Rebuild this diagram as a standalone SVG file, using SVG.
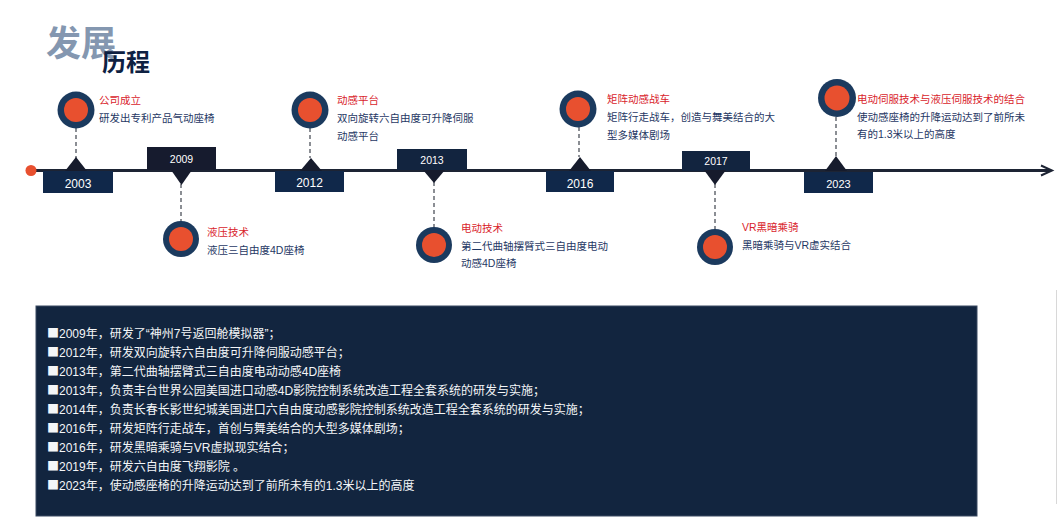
<svg xmlns="http://www.w3.org/2000/svg" width="1057" height="525" viewBox="0 0 1057 525">
<style>
text{font-family:"Liberation Sans","Noto Sans CJK SC",sans-serif}
.sq{font-family:"Noto Sans CJK SC",sans-serif}
.ttl{font-weight:bold}
.yr{fill:#ffffff;text-anchor:middle}
.ybot{fill:#10284a}
.ytop{fill:#12243f}
.tri{fill:#161b2c}
.ring{fill:#1b3a5e}
.dot{fill:#e8502f}
.h{fill:#d9242c;font-size:10.5px}
.b{fill:#1f3864;font-size:10.5px}
.dash{stroke:#666a72;stroke-width:1.5;stroke-dasharray:4 3;fill:none}
.p{fill:#f4f6f8;font-size:12px}
</style>
<rect width="1057" height="525" fill="#ffffff"/>
<line x1="1056.5" y1="290" x2="1056.5" y2="504" stroke="#d8d8d8" stroke-width="1"/>

<g id="title">
<text class="ttl" x="46" y="56" font-size="35" fill="#8497b0">发展</text>
<text class="ttl" x="102" y="71" font-size="24" fill="#0e2142">历程</text>
</g>

<g id="connectors">
<line x1="31" y1="170.5" x2="1051" y2="170.5" stroke="#1d2434" stroke-width="3"/>
<polyline points="1041,165.5 1052,170.5 1041,175.5" fill="none" stroke="#1d2434" stroke-width="2"/>
<line class="dash" x1="76" y1="128" x2="76" y2="158"/>
<line class="dash" x1="181" y1="184" x2="181" y2="222"/>
<line class="dash" x1="310" y1="128" x2="310" y2="158"/>
<line class="dash" x1="434" y1="182" x2="434" y2="228"/>
<line class="dash" x1="579" y1="127" x2="579" y2="157"/>
<line class="dash" x1="715" y1="184" x2="715" y2="230"/>
<line class="dash" x1="836" y1="117" x2="836" y2="156"/>
<circle cx="31" cy="170.5" r="5.5" class="dot"/>
</g>

<g id="n2003">
<rect class="ybot" x="43" y="171" width="70" height="22"/>
<polygon class="tri" points="65,171 87,171 76,157"/>
<text class="yr" x="78" y="188" font-size="12">2003</text>
<circle class="ring" cx="76" cy="110" r="18.5"/>
<circle class="dot" cx="76" cy="110" r="12"/>
<text class="h" x="99" y="104">公司成立</text>
<text class="b" x="99" y="122">研发出专利产品气动座椅</text>
</g>

<g id="n2009">
<rect x="147" y="147" width="69" height="23" fill="#161b2e"/>
<polygon class="tri" points="171,170 192,170 181.5,185"/>
<text class="yr" x="181.5" y="163" font-size="10.5">2009</text>
<circle class="ring" cx="181" cy="239" r="18"/>
<circle class="dot" cx="181" cy="239" r="12"/>
<text class="h" x="207" y="236">液压技术</text>
<text class="b" x="207" y="254">液压三自由度4D座椅</text>
</g>

<g id="n2012">
<rect class="ybot" x="275" y="171" width="69" height="21"/>
<polygon class="tri" points="300,171 322,171 311,158"/>
<text class="yr" x="309.5" y="187" font-size="12">2012</text>
<circle class="ring" cx="310" cy="110" r="18.5"/>
<circle class="dot" cx="310" cy="110" r="12"/>
<text class="h" x="337" y="104">动感平台</text>
<text class="b" x="337" y="122">双向旋转六自由度可升降伺服</text>
<text class="b" x="337" y="140">动感平台</text>
</g>

<g id="n2013">
<rect class="ytop" x="397" y="149" width="70" height="21"/>
<polygon class="tri" points="423,170 445,170 434,183"/>
<text class="yr" x="432" y="164" font-size="10.5">2013</text>
<circle class="ring" cx="434" cy="245" r="18"/>
<circle class="dot" cx="434" cy="245" r="12"/>
<text class="h" x="461" y="232">电动技术</text>
<text class="b" x="461" y="250">第二代曲轴摆臂式三自由度电动</text>
<text class="b" x="461" y="267">动感4D座椅</text>
</g>

<g id="n2016">
<rect class="ybot" x="546" y="171" width="68" height="21"/>
<polygon class="tri" points="569,171 591,171 580,157"/>
<text class="yr" x="580" y="188" font-size="12">2016</text>
<circle class="ring" cx="578" cy="109" r="18.5"/>
<circle class="dot" cx="578" cy="109" r="12"/>
<text class="h" x="607" y="103">矩阵动感战车</text>
<text class="b" x="607" y="121">矩阵行走战车，创造与舞美结合的大</text>
<text class="b" x="607" y="139">型多媒体剧场</text>
</g>

<g id="n2017">
<rect class="ytop" x="682" y="151" width="68" height="20"/>
<polygon class="tri" points="704,170 726,170 715,185"/>
<text class="yr" x="716" y="165" font-size="10.5">2017</text>
<circle class="ring" cx="715" cy="247" r="18"/>
<circle class="dot" cx="715" cy="247" r="12"/>
<text class="h" x="742" y="231">VR黑暗乘骑</text>
<text class="b" x="742" y="249">黑暗乘骑与VR虚实结合</text>
</g>

<g id="n2023">
<rect class="ybot" x="804" y="172" width="69" height="21"/>
<polygon class="tri" points="825,171 847,171 836,156"/>
<text class="yr" x="838.5" y="188" font-size="11">2023</text>
<circle class="ring" cx="837" cy="98" r="19"/>
<circle class="dot" cx="837" cy="98" r="12.5"/>
<text class="h" x="857" y="103">电动伺服技术与液压伺服技术的结合</text>
<text class="b" x="857" y="121">使动感座椅的升降运动达到了前所未</text>
<text class="b" x="857" y="138">有的1.3米以上的高度</text>
</g>

<g id="summary">
<rect x="36" y="306" width="941" height="210" fill="#12253f" stroke="#3a4a62" stroke-width="1"/>
<text class="p" x="47" y="338"><tspan class="sq">■</tspan>2009年，研发了“神州7号返回舱模拟器”；</text>
<text class="p" x="47" y="357"><tspan class="sq">■</tspan>2012年，研发双向旋转六自由度可升降伺服动感平台；</text>
<text class="p" x="47" y="376"><tspan class="sq">■</tspan>2013年，第二代曲轴摆臂式三自由度电动动感4D座椅</text>
<text class="p" x="47" y="395"><tspan class="sq">■</tspan>2013年，负责丰台世界公园美国进口动感4D影院控制系统改造工程全套系统的研发与实施；</text>
<text class="p" x="47" y="414"><tspan class="sq">■</tspan>2014年，负责长春长影世纪城美国进口六自由度动感影院控制系统改造工程全套系统的研发与实施；</text>
<text class="p" x="47" y="433"><tspan class="sq">■</tspan>2016年，研发矩阵行走战车，首创与舞美结合的大型多媒体剧场；</text>
<text class="p" x="47" y="452"><tspan class="sq">■</tspan>2016年，研发黑暗乘骑与VR虚拟现实结合；</text>
<text class="p" x="47" y="471"><tspan class="sq">■</tspan>2019年，研发六自由度飞翔影院 。</text>
<text class="p" x="47" y="490"><tspan class="sq">■</tspan>2023年，使动感座椅的升降运动达到了前所未有的1.3米以上的高度</text>
</g>
</svg>
